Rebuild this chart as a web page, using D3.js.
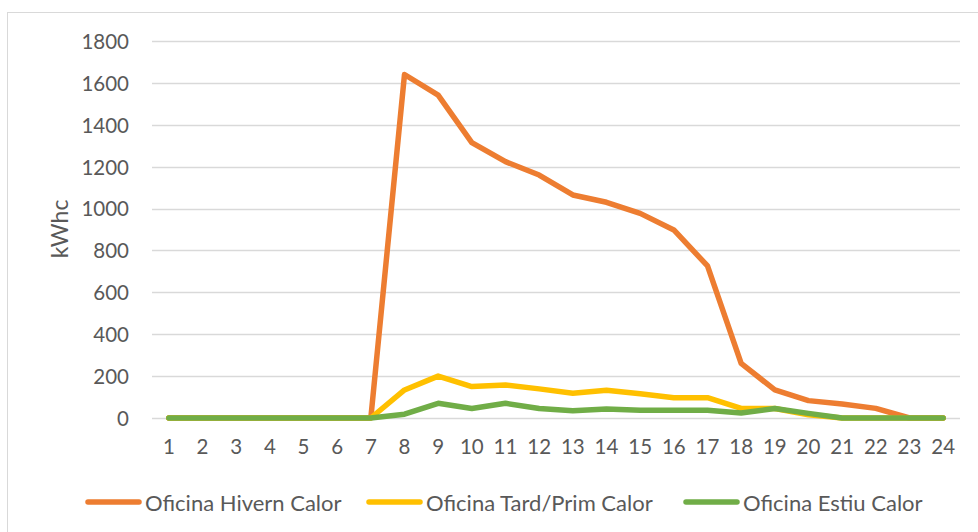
<!DOCTYPE html>
<html>
<head>
<meta charset="utf-8">
<script src="https://cdn.jsdelivr.net/npm/d3@7"></script>
<style>
  html, body { margin: 0; padding: 0; background: #fff; }
  svg { display: block; font-family: Lato, "Open Sans", sans-serif; }
</style>
</head>
<body>
<svg id="chart" width="978" height="532"></svg>
<script>
// Hourly heating demand (kWhc) for three office profiles
const hours = d3.range(1, 25).map(String);
const hivern = [0, 0, 0, 0, 0, 0, 0, 1640, 1542, 1315, 1224, 1160, 1065, 1030, 977, 898, 726, 261, 134, 83, 67, 46, 0, 0];
const tardPrim = [0, 0, 0, 0, 0, 0, 0, 134, 200, 150, 158, 139, 118, 132, 116, 97, 97, 46, 45, 15, 0, 0, 0, 0];
const estiu = [0, 0, 0, 0, 0, 0, 0, 18, 70, 45, 70, 45, 35, 43, 37, 37, 37, 24, 45, 22, 0, 0, 0, 0];
const yTicks = [0, 200, 400, 600, 800, 1000, 1200, 1400, 1600, 1800];
const seriesNames = ["Oficina Hivern Calor", "Oficina Tard/Prim Calor", "Oficina Estiu Calor"];
const seriesColors = ["#ED7D31", "#FFC000", "#70AD47"];

const series = [hivern, tardPrim, estiu].map((values, i) => ({
  name: seriesNames[i], color: seriesColors[i], values
}));

const svg = d3.select("#chart");

// outer chart frame
svg.append("rect")
  .attr("x", 7.5).attr("y", 12.5)
  .attr("width", 990).attr("height", 540)
  .attr("fill", "#fff").attr("stroke", "#d9d9d9").attr("stroke-width", 1);

const plot = { left: 152, right: 960, top: 41, bottom: 418 };

const x = d3.scaleBand().domain(hours).range([plot.left, plot.right]);
const y = d3.scaleLinear().domain([0, 1800]).range([plot.bottom, plot.top]);

// horizontal gridlines
svg.append("g")
  .selectAll("line")
  .data(yTicks)
  .join("line")
  .attr("x1", plot.left).attr("x2", plot.right)
  .attr("y1", d => Math.round(y(d)) + 0.5).attr("y2", d => Math.round(y(d)) + 0.5)
  .attr("stroke", "#d9d9d9").attr("stroke-width", 1.5);

// y axis labels
const yAxis = d3.axisLeft(y).tickValues(yTicks).tickFormat(d3.format("d")).tickSize(0).tickPadding(0);
const gy = svg.append("g").attr("transform", `translate(${plot.left - 23},0)`).call(yAxis);
gy.select(".domain").remove();
gy.selectAll("text")
  .attr("fill", "#595959").attr("font-size", 20.5)
  .attr("font-family", "Lato, 'Open Sans', sans-serif")
  .attr("dy", "0.36em");

// x axis labels
const xAxis = d3.axisBottom(x).tickSize(0).tickPadding(0);
const gx = svg.append("g").attr("transform", `translate(0,${plot.bottom + 21})`).call(xAxis);
gx.select(".domain").remove();
gx.selectAll("text")
  .attr("fill", "#595959").attr("font-size", 20.5)
  .attr("font-family", "Lato, 'Open Sans', sans-serif")
  .attr("dy", "0.71em");

// y axis title
svg.append("text")
  .attr("transform", "translate(59,229) rotate(-90)")
  .attr("text-anchor", "middle")
  .attr("dominant-baseline", "central")
  .attr("fill", "#595959").attr("font-size", 23)
  .text("kWhc");

// series lines
const line = d3.line()
  .x((d, i) => x(hours[i]) + x.bandwidth() / 2)
  .y(d => y(d));

svg.append("g")
  .selectAll("path")
  .data(series)
  .join("path")
  .attr("d", d => line(d.values))
  .attr("fill", "none")
  .attr("stroke", d => d.color)
  .attr("stroke-width", 5.5)
  .attr("stroke-linejoin", "round")
  .attr("stroke-linecap", "round");

// legend
const legendX = [88, 369, 686];
const legend = svg.append("g")
  .selectAll("g")
  .data(series)
  .join("g")
  .attr("transform", (d, i) => `translate(${legendX[i]},502)`);
legend.append("line")
  .attr("x1", 0).attr("x2", 51)
  .attr("stroke", d => d.color).attr("stroke-width", 5.5)
  .attr("stroke-linecap", "round");
legend.append("text")
  .attr("x", 57)
  .attr("dominant-baseline", "central")
  .attr("fill", "#595959").attr("font-size", 22)
  .text(d => d.name);
</script>
</body>
</html>
